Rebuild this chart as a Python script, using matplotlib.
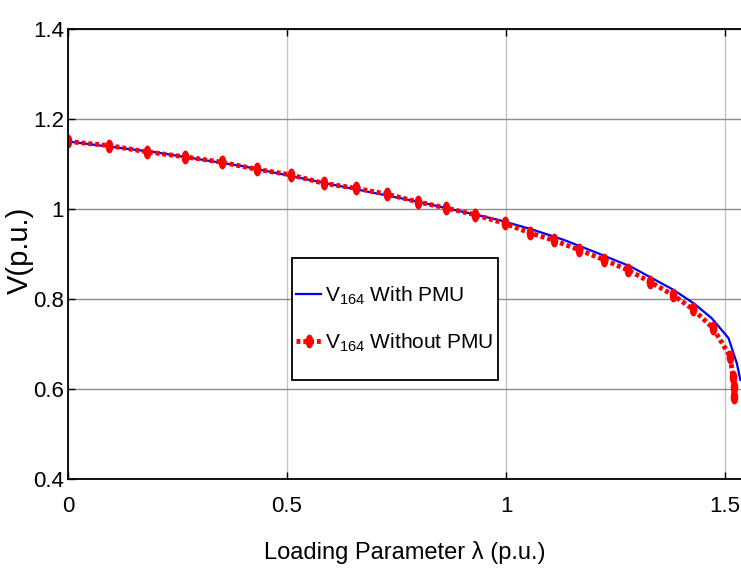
import numpy as np
import matplotlib
matplotlib.use("Agg")
import matplotlib.pyplot as plt
from matplotlib.patches import Rectangle

# loading parameter and bus-164 voltage
lam_pmu = [0, 0.2, 0.4, 0.6, 0.8, 0.982, 1.058, 1.133, 1.209, 1.285,
           1.383, 1.429, 1.47, 1.508, 1.527, 1.535]
v_pmu = [1.150, 1.126, 1.095, 1.055, 1.016, 0.976, 0.955, 0.931, 0.902, 0.872,
         0.820, 0.790, 0.757, 0.713, 0.657, 0.620]

lam_nopmu = [0, 0.093, 0.18, 0.267, 0.351, 0.432, 0.508, 0.584, 0.658, 0.728,
             0.798, 0.864, 0.930, 0.997, 1.054, 1.11, 1.167, 1.224, 1.279,
             1.329, 1.381, 1.427, 1.473, 1.512, 1.518, 1.52, 1.52]
v_nopmu = [1.150, 1.141, 1.127, 1.116, 1.104, 1.088, 1.076, 1.057, 1.046, 1.033,
           1.016, 1.002, 0.987, 0.968, 0.947, 0.930, 0.909, 0.887, 0.864,
           0.838, 0.809, 0.777, 0.735, 0.672, 0.627, 0.605, 0.582]

xticks = [0, 0.5, 1, 1.5]
xticklabels = ['0', '0.5', '1', '1.5']
yticks = [0.4, 0.6, 0.8, 1.0, 1.2, 1.4]
yticklabels = ['0.4', '0.6', '0.8', '1', '1.2', '1.4']

plt.rcParams['font.family'] = ['Liberation Sans', 'DejaVu Sans']
plt.rcParams['mathtext.fontset'] = 'custom'
plt.rcParams['mathtext.rm'] = 'Liberation Sans'

fig = plt.figure(figsize=(7.41, 5.76), dpi=100)
# axes run past the right edge of the figure, like the cropped original
axw = 1.6 * 438
ax = fig.add_axes([68 / 741, 97 / 576, axw / 741, 450 / 576])

# tall ellipse marker for the red series
t = np.linspace(0, 2 * np.pi, 30)
ell = np.column_stack([0.55 * np.cos(t), np.sin(t)])

ax.plot(lam_pmu, v_pmu, color='#0000ff', lw=1.6, label=r'$\mathrm{V}_{\mathrm{164}}$ With PMU')
ax.plot(lam_nopmu, v_nopmu, color='#ff0000', lw=3.5, dashes=(0.8, 0.6),
        marker=ell, markersize=10, markeredgewidth=0,
        label=r'$\mathrm{V}_{\mathrm{164}}$ Without PMU')

ax.set_xlim(0, 1.6)
ax.set_ylim(0.4, 1.4)
ax.set_xticks(xticks)
ax.set_xticklabels(xticklabels)
ax.set_yticks(yticks)
ax.set_yticklabels(yticklabels)
ax.tick_params(direction='in', length=5, width=1, top=True, right=True)
ax.tick_params(axis='x', pad=12, labelsize=16)
ax.tick_params(axis='y', pad=3, labelsize=16)

ax.xaxis.grid(True, color='#c4c4c4', lw=1)
ax.yaxis.grid(True, color='#8c8c8c', lw=1)
for s in ax.spines.values():
    s.set_linewidth(1.3)

ax.set_xlabel('Loading Parameter \u03bb (p.u.)', fontsize=17)
ax.xaxis.set_label_coords((405 - 68) / axw, -(553 - 479) / 450)
ax.xaxis.label.set_va('center')
ax.set_ylabel('V(p.u.)', fontsize=21)
ax.yaxis.set_label_coords(-(68 - 34) / axw, (479 - 250) / 450)

# legend box: tall frame drawn separately, entries centred inside it
bx0, bx1, by0, by1 = 292, 498, 258, 380
box = Rectangle(((bx0 - 68) / axw, (479 - by1) / 450), (bx1 - bx0) / axw,
                (by1 - by0) / 450, transform=ax.transAxes, facecolor='white',
                edgecolor='black', lw=1.3, zorder=4.9)
ax.add_patch(box)
leg = ax.legend(loc='center', bbox_to_anchor=(((bx0 + bx1) / 2 - 68) / axw,
                                              (479 - (by0 + by1) / 2) / 450),
                fontsize=15, frameon=False, handlelength=1.2, handletextpad=0.2,
                borderpad=0, labelspacing=1.15, borderaxespad=0)

fig.savefig('out.png', dpi=100)
